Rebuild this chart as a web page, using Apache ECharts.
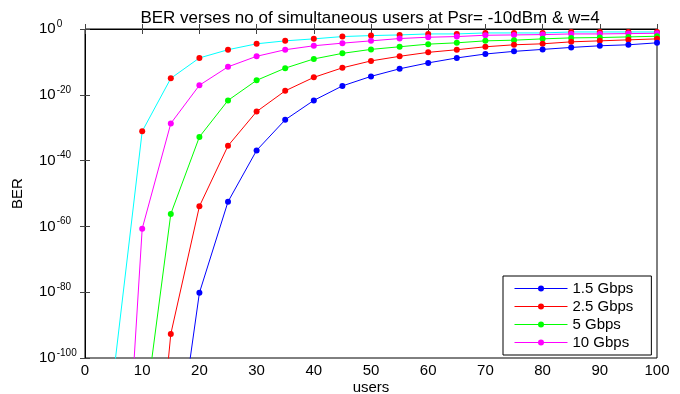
<!DOCTYPE html>
<html>
<head>
<meta charset="utf-8">
<script src="https://cdn.jsdelivr.net/npm/echarts@6/dist/echarts.min.js"></script>
<style>html,body{margin:0;padding:0;background:#fff;}#c{width:680px;height:394px;}</style>
</head>
<body>
<div id="c"></div>
<script>
// number of simultaneous users
var users = [5,10,15,20,25,30,35,40,45,50,55,60,65,70,75,80,85,90,95,100];
// BER values given as log10(BER) (exponent of 10)
var ber_1_5Gbps = [null,null,-142,-80.2,-52.5,-36.9,-27.6,-21.7,-17.3,-14.4,-12.1,-10.3,-8.8,-7.6,-6.8,-6.2,-5.6,-5.1,-4.8,-4.2];
var ber_2_5Gbps = [null,-184,-92.7,-53.9,-35.5,-25.1,-18.8,-14.7,-11.8,-9.7,-8.3,-7.1,-6.3,-5.4,-4.8,-4.5,-3.9,-3.6,-3.3,-3.0];
var ber_5Gbps   = [null,-122.6,-56.2,-32.8,-21.7,-15.6,-11.9,-9.1,-7.4,-6.2,-5.4,-4.6,-4.2,-3.6,-3.4,-3.0,-2.7,-2.6,-2.4,-2.2];
var ber_10Gbps  = [-201,-60.7,-28.7,-17.1,-11.5,-8.3,-6.3,-5.1,-4.3,-3.6,-2.9,-2.5,-2.3,-1.9,-1.8,-1.7,-1.5,-1.5,-1.4,-1.3];
var ber_extra   = [-105,-31.1,-15.0,-8.8,-6.3,-4.5,-3.6,-3.0,-2.3,-2.0,-1.8,-1.5,-1.5,-1.2,-1.2,-1.2,-0.9,-0.9,-0.9,-0.9];
var seriesNames = ['1.5 Gbps','2.5 Gbps','5 Gbps','10 Gbps'];
var xTicks = [0,10,20,30,40,50,60,70,80,90,100];
var yExpTicks = [0,-20,-40,-60,-80,-100];

function pairs(arr){ return users.map(function(u,i){ return [u, arr[i]]; }); }
var FONT = 'Liberation Sans, Arial, sans-serif';
function mk(name, arr, lineColor, markColor){
  return {
    name: name, type: 'line', data: pairs(arr), clip: true,
    symbol: 'circle', symbolSize: 6, showSymbol: true,
    lineStyle: {color: lineColor, width: 1},
    itemStyle: {color: markColor},
    emphasis: {disabled: true}, animation: false
  };
}
var chart = echarts.init(document.getElementById('c'), null, {renderer: 'canvas'});
chart.setOption({
  animation: false,
  backgroundColor: '#fff',
  title: {
    text: 'BER verses no of simultaneous users at Psr= -10dBm & w=4',
    left: 365, textAlign: 'center', top: 5,
    textStyle: {fontFamily: FONT, fontSize: 17, fontWeight: 'normal', color: '#000'}
  },
  grid: {left: 85, right: 23, top: 29, bottom: 36, show: true, borderColor: '#000', borderWidth: 1, backgroundColor: '#fff',
    containLabel: false, outerBoundsMode: 'none'},
  legend: {
    data: seriesNames, orient: 'vertical', left: 503, top: 276,
    backgroundColor: '#fff', borderColor: '#000', borderWidth: 1,
    padding: [5, 18, 5, 11], itemWidth: 53, itemHeight: 7.5, itemGap: 3,
    lineStyle: {width: 1},
    textStyle: {fontFamily: FONT, fontSize: 15, color: '#000'}
  },
  xAxis: [{
    type: 'value', min: 0, max: 100, interval: 10,
    name: 'users', nameLocation: 'middle', nameGap: 22, nameMoveOverlap: false,
    nameTextStyle: {fontFamily: FONT, fontSize: 15, color: '#000'},
    axisLine: {lineStyle: {color: '#000'}},
    axisTick: {inside: true, length: 5, lineStyle: {color: '#444'}},
    axisLabel: {fontFamily: FONT, fontSize: 15, color: '#000', margin: 5,
      formatter: function(v){ return xTicks.indexOf(v) >= 0 ? String(v) : ''; }},
    splitLine: {show: false}
  },{
    type: 'value', min: 0, max: 100, interval: 10, position: 'top',
    axisLine: {lineStyle: {color: '#000'}},
    axisTick: {inside: true, length: 5, lineStyle: {color: '#444'}},
    axisLabel: {show: false}, splitLine: {show: false}
  }],
  yAxis: [{
    type: 'value', min: -100, max: 0, interval: 20,
    name: 'BER', nameLocation: 'middle', nameGap: 60, nameRotate: 90, nameMoveOverlap: false,
    nameTextStyle: {fontFamily: FONT, fontSize: 15, color: '#000'},
    axisLine: {lineStyle: {color: '#000'}},
    axisTick: {inside: true, length: 5, lineStyle: {color: '#444'}},
    axisLabel: {
      align: 'left', margin: 46,
      formatter: function(v){ return yExpTicks.indexOf(v) >= 0 ? '{b|10}{s|' + v + '}' : ''; },
      rich: {
        b: {fontFamily: FONT, fontSize: 15, color: '#000'},
        s: {fontFamily: FONT, fontSize: 10, color: '#000', padding: [0,0,10,1]}
      }
    },
    splitLine: {show: false}
  },{
    type: 'value', min: -100, max: 0, interval: 20, position: 'right',
    axisLine: {lineStyle: {color: '#000'}},
    axisTick: {inside: true, length: 5, lineStyle: {color: '#444'}},
    axisLabel: {show: false}, splitLine: {show: false}
  }],
  series: [
    mk('extra', ber_extra, '#00ffff', '#ff0000'),
    mk(seriesNames[3], ber_10Gbps, '#ff00ff', '#ff00ff'),
    mk(seriesNames[2], ber_5Gbps, '#00ff00', '#00ff00'),
    mk(seriesNames[1], ber_2_5Gbps, '#ff0000', '#ff0000'),
    mk(seriesNames[0], ber_1_5Gbps, '#0000ff', '#0000ff')
  ]
});
</script>
</body>
</html>
